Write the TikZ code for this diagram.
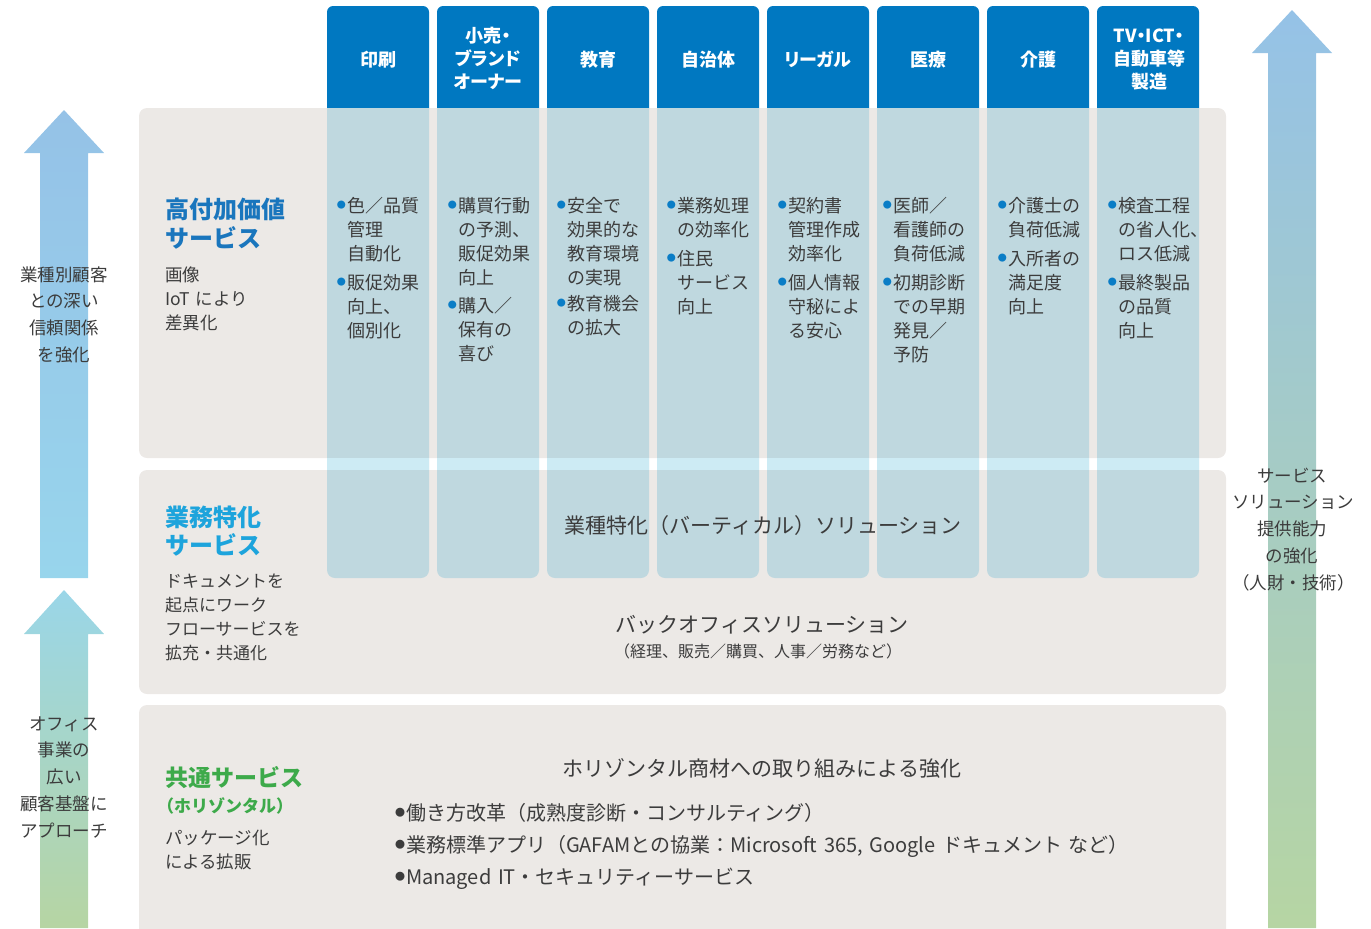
\documentclass[tikz,border=0pt]{standalone}
\usepackage{fontspec}
\setmainfont{Noto Sans CJK JP}
\usepackage{graphicx}
\definecolor{hdrblue}{RGB}{0,120,193}
\definecolor{colbody}{RGB}{191,216,223}
\definecolor{colgap}{RGB}{205,235,244}
\definecolor{panelgray}{RGB}{236,233,230}
\definecolor{txt}{RGB}{60,60,60}
\definecolor{hblue}{RGB}{26,118,189}
\definecolor{hcyan}{RGB}{29,164,220}
\definecolor{hgreen}{RGB}{61,170,74}
\definecolor{bblue}{RGB}{10,125,198}
\definecolor{arrtop}{RGB}{149,194,231}
\definecolor{arrmid}{RGB}{152,213,236}
\definecolor{arrmidb}{RGB}{154,214,232}
\definecolor{arrbot}{RGB}{182,213,163}
\newcommand{\bdot}{\llap{\textcolor{bblue}{\raisebox{0.18em}{\scalebox{0.5}{●}}}\hspace{0.6pt}}}
\newcommand{\gdot}{\raisebox{0.16em}{\scalebox{0.5}{●}}\hspace{0.5pt}}
\tikzset{
  every node/.style={inner sep=0pt, outer sep=0pt, text=txt},
  hdrtext/.style={text=white, font=\bfseries\fontsize{9}{11.5}\selectfont\addfontfeatures{RawFeature=+palt}, text width=50pt, align=center, anchor=base},
  coltext/.style={font=\fontsize{9}{12}\selectfont, text width=50pt, align=left, anchor=base west},
  headA/.style={font=\bfseries\fontsize{12}{14.5}\selectfont, text width=80pt, align=left, anchor=base west},
  subtext/.style={font=\fontsize{8.75}{12}\selectfont, text width=80pt, align=left, anchor=base west},
  arrtext/.style={font=\fontsize{8.75}{13.4}\selectfont, text width=60pt, align=center, anchor=base},
  bigtext/.style={font=\fontsize{10.5}{13}\selectfont, anchor=base},
  paneltile/.style={fill=panelgray, rounded corners=4pt},
}
\begin{document}
\begin{tikzpicture}[x=0.5pt,y=-0.5pt]
\useasboundingbox (0,0) rectangle (1371,928);
\clip (0,0) rectangle (1371,928);

% arrows
\shade[top color=arrtop, bottom color=arrmid]
  (40,578) -- (40,153) -- (24,153) -- (64,110) -- (104,153) -- (88,153) -- (88,578) -- cycle;
\shade[top color=arrmidb, bottom color=arrbot]
  (40,928) -- (40,634) -- (24,634) -- (64,590) -- (104,634) -- (88,634) -- (88,928) -- cycle;
\shade[top color=arrtop, middle color=arrmid, bottom color=arrbot]
  (1268,928) -- (1268,53) -- (1252,53) -- (1292,10) -- (1332,53) -- (1316,53) -- (1316,928) -- cycle;

% panels
\fill[paneltile] (139,108) rectangle (1226,458);
\fill[paneltile] (139,470) rectangle (1226,694);
\fill[paneltile] (139,705) rectangle (1226,960);

% columns
\foreach \i in {0,...,7}{
  \pgfmathsetmacro\xa{327+110*\i}
  \pgfmathsetmacro\xb{\xa+102}
  \fill[hdrblue, rounded corners=3pt] (\xa,108) -- (\xa,6) -- (\xb,6) -- (\xb,108);
  \fill[colbody, rounded corners=4pt] (\xa,108) -- (\xa,578) -- (\xb,578) -- (\xb,108);
  \fill[colgap] (\xa,458) rectangle (\xb,470);
}

% header texts
\node[hdrtext] (h1) at (378,66) {印刷};
\node[hdrtext] (h2) at (488,42) {小売・\\ブランド\\オーナー};
\node[hdrtext] (h3) at (598,66) {教育};
\node[hdrtext] (h4) at (708,66) {自治体};
\node[hdrtext] (h5) at (818,66) {リーガル};
\node[hdrtext] (h6) at (928,66) {医療};
\node[hdrtext] (h7) at (1038,66) {介護};
\node[hdrtext] (h8) at (1149,42) {TV・ICT・\\自動車等\\製造};

% column texts
\node[coltext] (c1a) at (347,212) {\bdot 色／品質\\管理\\自動化};
\node[coltext] (c1b) at (347,289) {\bdot 販促効果\\向上、\\個別化};
\node[coltext] (c2a) at (458,212) {\bdot 購買行動\\の予測、\\販促効果\\向上};
\node[coltext] (c2b) at (458,312) {\bdot 購入／\\保有の\\喜び};
\node[coltext] (c3a) at (567,212) {\bdot 安全で\\効果的な\\教育環境\\の実現};
\node[coltext] (c3b) at (567,310) {\bdot 教育機会\\の拡大};
\node[coltext] (c4a) at (677,212) {\bdot 業務処理\\の効率化};
\node[coltext] (c4b) at (677,265) {\bdot 住民\\サービス\\向上};
\node[coltext] (c5a) at (788,212) {\bdot 契約書\\管理作成\\効率化};
\node[coltext] (c5b) at (788,289) {\bdot 個人情報\\守秘によ\\る安心};
\node[coltext] (c6a) at (893,212) {\bdot 医師／\\看護師の\\負荷低減};
\node[coltext] (c6b) at (893,289) {\bdot 初期診断\\での早期\\発見／\\予防};
\node[coltext] (c7a) at (1008,212) {\bdot 介護士の\\負荷低減};
\node[coltext] (c7b) at (1008,265) {\bdot 入所者の\\満足度\\向上};
\node[coltext] (c8a) at (1118,212) {\bdot 検査工程\\の省人化、\\ロス低減};
\node[coltext] (c8b) at (1118,289) {\bdot 最終製品\\の品質\\向上};

% panel 1 labels
\node[headA, text=hblue] (p1h) at (165,218) {高付加価値\\サービス};
\node[subtext] (p1s) at (165,281) {画像\\IoT により\\差異化};

% panel 2 labels
\node[headA, text=hcyan, font=\bfseries\fontsize{12}{14}\selectfont] (p2h) at (165,526) {業務特化\\サービス};
\node[subtext, font=\fontsize{8.5}{12.15}\selectfont] (p2s) at (165,587) {ドキュメントを\\起点にワーク\\フローサービスを\\拡充・共通化};
\node[bigtext] (vert) at (763,533) {業種特化（バーティカル）ソリューション};
\node[bigtext] (back) at (762,632) {バックオフィスソリューション};
\node[font=\fontsize{8}{10}\selectfont, anchor=base] (backs) at (758,657) {（経理、販売／購買、人事／労務など）};

% panel 3 labels
\node[headA, text=hgreen, font=\bfseries\fontsize{11.5}{14}\selectfont] (p3h) at (165,786) {共通サービス};
\node[headA, text=hgreen, font=\bfseries\fontsize{8.5}{10}\selectfont] (p3h2) at (157,812) {（ホリゾンタル）};
\node[subtext] (p3s) at (165,844) {パッケージ化\\による拡販};
\node[bigtext] (hor) at (762,776) {ホリゾンタル商材への取り組みによる強化};
\node[font=\fontsize{10}{16}\selectfont, text width=400pt, align=left, anchor=base west] (hb) at (395,820)
  {\gdot 働き方改革（成熟度診断・コンサルティング）\\
   \gdot 業務標準アプリ（GAFAMとの協業：Microsoft 365, Google ドキュメント など）\\
   \gdot Managed IT・セキュリティーサービス};

% arrow texts
\node[arrtext] (la1) at (64,281) {業種別顧客\\との深い\\信頼関係\\を強化};
\node[arrtext] (la2) at (64,730) {オフィス\\事業の\\広い\\顧客基盤に\\アプローチ};
\node[arrtext] (ra) at (1292,482) {サービス\\ソリューション\\提供能力\\の強化\\（人財・技術）};
\end{tikzpicture}
\end{document}
